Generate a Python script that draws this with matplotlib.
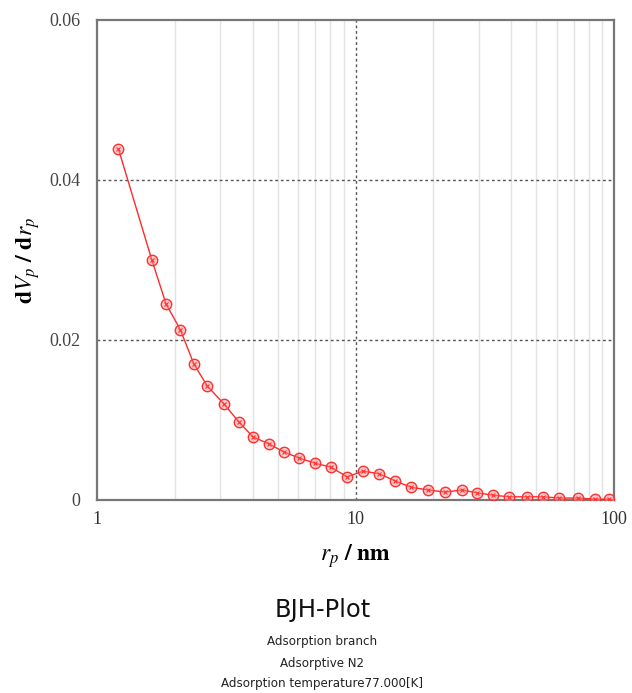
import matplotlib
matplotlib.use("Agg")
import matplotlib.pyplot as plt
from matplotlib.ticker import FixedLocator, NullFormatter

plt.rcParams["mathtext.fontset"] = "stix"

# ── BJH pore size distribution (adsorption branch) ─────────────────
rp = [1.21, 1.63, 1.85, 2.10, 2.37, 2.67, 3.10, 3.54, 4.01, 4.63,
      5.29, 6.05, 6.97, 8.04, 9.27, 10.7, 12.3, 14.2, 16.4, 19.1,
      22.2, 25.8, 29.5, 34.0, 39.3, 46.1, 53.1, 61.3, 72.6, 84.4, 95.7]
dvp = [0.0439, 0.0300, 0.0245, 0.0213, 0.0170, 0.01425, 0.0120, 0.00975,
       0.0079, 0.0070, 0.0060, 0.00525, 0.0046, 0.0041, 0.0029, 0.0036,
       0.0033, 0.0024, 0.0016, 0.00125, 0.0010, 0.00125, 0.0009, 0.0006,
       0.0004, 0.0004, 0.0004, 0.00025, 0.00025, 0.0001, 0.0001]

y_ticks = [0, 0.02, 0.04, 0.06]
y_ticklabels = ["0", "0.02", "0.04", "0.06"]
x_ticks = [1, 10, 100]
x_ticklabels = ["1", "10", "100"]
x_minor = [2, 3, 4, 5, 6, 7, 8, 9, 20, 30, 40, 50, 60, 70, 80, 90]

fig = plt.figure(figsize=(6.32, 6.93), dpi=100)
ax = fig.add_axes([97 / 632, 1 - 500 / 693, 517 / 632, 480 / 693])

ax.set_xscale("log")
ax.set_xlim(1, 100)
ax.set_ylim(0, 0.06)

# grid: light solid minor verticals, dashed majors
for xm in x_minor:
    ax.axvline(xm, color="#e2e2e2", lw=1.0, zorder=0)
ax.axvline(10, color="#555555", lw=1.0, ls=(0, (2, 2)), zorder=1)
for yv in [0.02, 0.04]:
    ax.axhline(yv, color="#555555", lw=1.0, ls=(0, (2, 2)), zorder=1)

ax.plot(rp, dvp, color="#ff2a2a", lw=1.0, marker="o", ms=7.5,
        mfc=(1, 0.55, 0.55, 0.45), mec="#ff3030", mew=1.0, zorder=3)
ax.plot(rp, dvp, ls="none", marker="x", ms=3.2, mec="#ff3030", mew=0.8,
        zorder=4)

ax.xaxis.set_major_locator(FixedLocator(x_ticks))
ax.xaxis.set_minor_locator(FixedLocator(x_minor))
ax.xaxis.set_minor_formatter(NullFormatter())
ax.set_xticklabels(x_ticklabels)
ax.set_yticks(y_ticks)
ax.set_yticklabels(y_ticklabels)
ax.tick_params(which="both", length=0)
ax.tick_params(axis="y", pad=12, labelsize=13, labelcolor="#444444")
ax.tick_params(axis="x", pad=8, labelsize=13, labelcolor="#333333")
for lab in ax.get_xticklabels() + ax.get_yticklabels():
    lab.set_fontfamily("Liberation Serif")

for side in ["left", "bottom", "top", "right"]:
    ax.spines[side].set_color("#777777")
    ax.spines[side].set_linewidth(1.6)

ax.set_ylabel(r"$\mathbf{d}\boldsymbol{V_p}\ \mathbf{/\ d}\boldsymbol{r_p}$",
              fontsize=17, labelpad=5)
ax.set_xlabel(r"$\boldsymbol{r_p}\ \mathbf{/\ nm}$", fontsize=17,
              labelpad=10)

# caption block under the chart
fig.text(0.51, 1 - 610 / 693, "BJH-Plot", ha="center", va="center",
         fontsize=17.5, family="DejaVu Sans", color="#111111")
fig.text(0.51, 1 - 641 / 693, "Adsorption branch", ha="center",
         va="center", fontsize=8.6, family="DejaVu Sans", color="#222222")
fig.text(0.51, 1 - 663 / 693, "Adsorptive N2", ha="center", va="center",
         fontsize=8.6, family="DejaVu Sans", color="#222222")
fig.text(0.51, 1 - 684 / 693, "Adsorption temperature77.000[K]",
         ha="center", va="center", fontsize=8.6, family="DejaVu Sans",
         color="#222222")

fig.savefig("out.png", dpi=100)
